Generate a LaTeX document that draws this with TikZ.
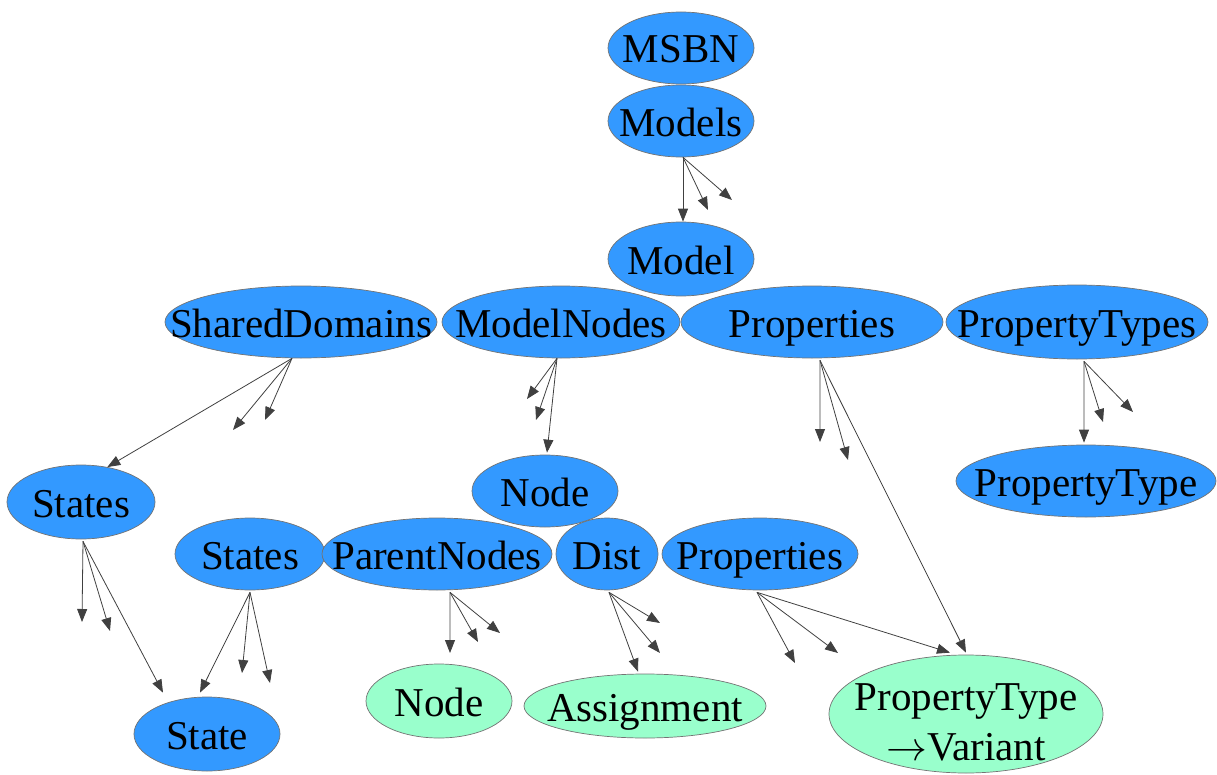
\documentclass[tikz,border=0pt]{standalone}
\usepackage{graphicx}
\usepackage{fontspec}
\setmainfont{Liberation Serif}
\usetikzlibrary{shapes.geometric,arrows.meta}
\definecolor{objblue}{HTML}{3399FF}
\definecolor{leafgreen}{HTML}{99FFCC}
\tikzset{
  obj/.style={ellipse, draw=black!55, line width=0.7bp, fill=objblue,
    inner sep=0pt, text height=30bp, text depth=0bp,
    font=\fontsize{41bp}{50bp}\selectfont},
  leaf/.style={obj, fill=leafgreen},
  link/.style={draw=black!75, line width=0.8bp,
    -{Triangle[length=13bp,width=10bp]}},
}
% a thin text arrow at the label size
\newcommand{\typearrow}{\scalebox{4.1}{\normalsize$\rightarrow$}}
\begin{document}
\begin{tikzpicture}[x=1bp, y=-1bp]
\useasboundingbox (0,0) rectangle (1217,775);

% object hierarchy
\node[obj, minimum width=146bp, minimum height=72bp] (msbn)   at (681,48)  {\makebox[0pt]{MSBN}};
\node[obj, minimum width=146bp, minimum height=72bp] (models) at (681,121) {\makebox[0pt]{Models}};
\node[obj, minimum width=146bp, minimum height=74bp] (model)  at (681,259) {\makebox[0pt]{Model}};

\node[obj, minimum width=272bp, minimum height=72bp] (shared) at (301,322)  {\makebox[0pt]{SharedDomains}};
\node[obj, minimum width=238bp, minimum height=72bp] (mnodes) at (561,322)  {\makebox[0pt]{ModelNodes}};
\node[obj, minimum width=262bp, minimum height=72bp] (props)  at (812,322)  {\makebox[0pt]{Properties}};
\node[obj, minimum width=262bp, minimum height=74bp] (ptypes) at (1077,322) {\makebox[0pt]{PropertyTypes}};
\node[obj, minimum width=260bp, minimum height=72bp] (ptype)  at (1086,481) {\makebox[0pt]{PropertyType}};

\node[obj, minimum width=148bp, minimum height=74bp] (statesA) at (81,502)  {\makebox[0pt]{States}};
\node[obj, minimum width=150bp, minimum height=72bp] (statesB) at (250,554) {\makebox[0pt]{States}};
\node[obj, minimum width=146bp, minimum height=74bp] (state)   at (207,734) {\makebox[0pt]{State}};

\node[obj, minimum width=146bp, minimum height=72bp] (node)    at (545,491) {\makebox[0pt]{Node}};
\node[obj, minimum width=230bp, minimum height=72bp] (parents) at (437,554) {\makebox[0pt]{ParentNodes}};
\node[obj, minimum width=102bp, minimum height=72bp] (dist)    at (607,554) {\makebox[0pt]{Dist}};
\node[obj, minimum width=196bp, minimum height=72bp] (nprops)  at (760,554) {\makebox[0pt]{Properties}};

\node[leaf, minimum width=146bp, minimum height=74bp] (gnode)   at (439,701) {\makebox[0pt]{Node}};
\node[leaf, minimum width=242bp, minimum height=64bp] (assign)  at (645,706) {\makebox[0pt]{Assignment}};
\node[leaf, minimum width=274bp, minimum height=118bp] (variant) at (966,714)
  {\makebox[0pt]{\raisebox{-3bp}{\begin{tabular}{@{}c@{}}PropertyType\\\typearrow Variant\end{tabular}}}};

% edge origins below each parent
\coordinate (models-out)  at ([xshift=2bp]models.south);
\coordinate (shared-out)  at ([xshift=-9bp]shared.south);
\coordinate (mnodes-out)  at ([xshift=-4bp]mnodes.south);
\coordinate (props-out)   at ([xshift=8bp,yshift=-2bp]props.south);
\coordinate (ptypes-out)  at ([xshift=7bp,yshift=-2bp]ptypes.south);
\coordinate (statesA-out) at ([xshift=2bp,yshift=-2bp]statesA.south);
\coordinate (statesB-out) at ([yshift=-2bp]statesB.south);
\coordinate (parents-out) at ([xshift=13bp,yshift=-2bp]parents.south);
\coordinate (dist-out)    at ([xshift=2bp,yshift=-2bp]dist.south);
\coordinate (nprops-out)  at ([xshift=-3bp,yshift=-2bp]nprops.south);

% open collection entries
\coordinate (m1) at (708,210);  \coordinate (m2) at (732,200);
\coordinate (s1) at (233,430);  \coordinate (s2) at (265,420);
\coordinate (n1) at (527,399);  \coordinate (n2) at (536,420);
\coordinate (p1) at (820,442);  \coordinate (p2) at (848,460);
\coordinate (t1) at (1103,422); \coordinate (t2) at (1133,412);
\coordinate (a1) at (82,622);   \coordinate (a2) at (110,631);
\coordinate (b1) at (242,673);  \coordinate (b2) at (270,683);
\coordinate (r1) at (450,653);  \coordinate (r2) at (478,642);  \coordinate (r3) at (500,633);
\coordinate (d1) at (660,653);  \coordinate (d2) at (660,623);
\coordinate (q1) at (795,663);  \coordinate (q2) at (838,653);

% connectors
\draw[link] (models-out) -- ([xshift=2bp]model.north);
\draw[link] (models-out) -- (m1);
\draw[link] (models-out) -- (m2);

\draw[link] (shared-out) -- (statesA.53);
\draw[link] (shared-out) -- (s1);
\draw[link] (shared-out) -- (s2);

\draw[link] (mnodes-out) -- ([xshift=2bp,yshift=2bp]node.north);
\draw[link] (mnodes-out) -- (n1);
\draw[link] (mnodes-out) -- (n2);

\draw[link] (props-out) -- (p1);
\draw[link] (props-out) -- (p2);
\draw[link] (props-out) -- ([yshift=2bp]variant.north);

\draw[link] (ptypes-out) -- ([xshift=-2bp,yshift=2bp]ptype.north);
\draw[link] (ptypes-out) -- (t1);
\draw[link] (ptypes-out) -- (t2);

\draw[link] (statesA-out) -- (a1);
\draw[link] (statesA-out) -- (a2);
\draw[link] (statesA-out) -- ([xshift=-44bp,yshift=4bp]state.north);

\draw[link] (statesB-out) -- ([xshift=-7bp,yshift=4bp]state.north);
\draw[link] (statesB-out) -- (b1);
\draw[link] (statesB-out) -- (b2);

\draw[link] (parents-out) -- (r1);
\draw[link] (parents-out) -- (r2);
\draw[link] (parents-out) -- (r3);

\draw[link] (dist-out) -- ([xshift=-7bp,yshift=2bp]assign.north);
\draw[link] (dist-out) -- (d1);
\draw[link] (dist-out) -- (d2);

\draw[link] (nprops-out) -- (q1);
\draw[link] (nprops-out) -- (q2);
\draw[link] (nprops-out) -- ([xshift=-16bp,yshift=2bp]variant.north);
\end{tikzpicture}
\end{document}
